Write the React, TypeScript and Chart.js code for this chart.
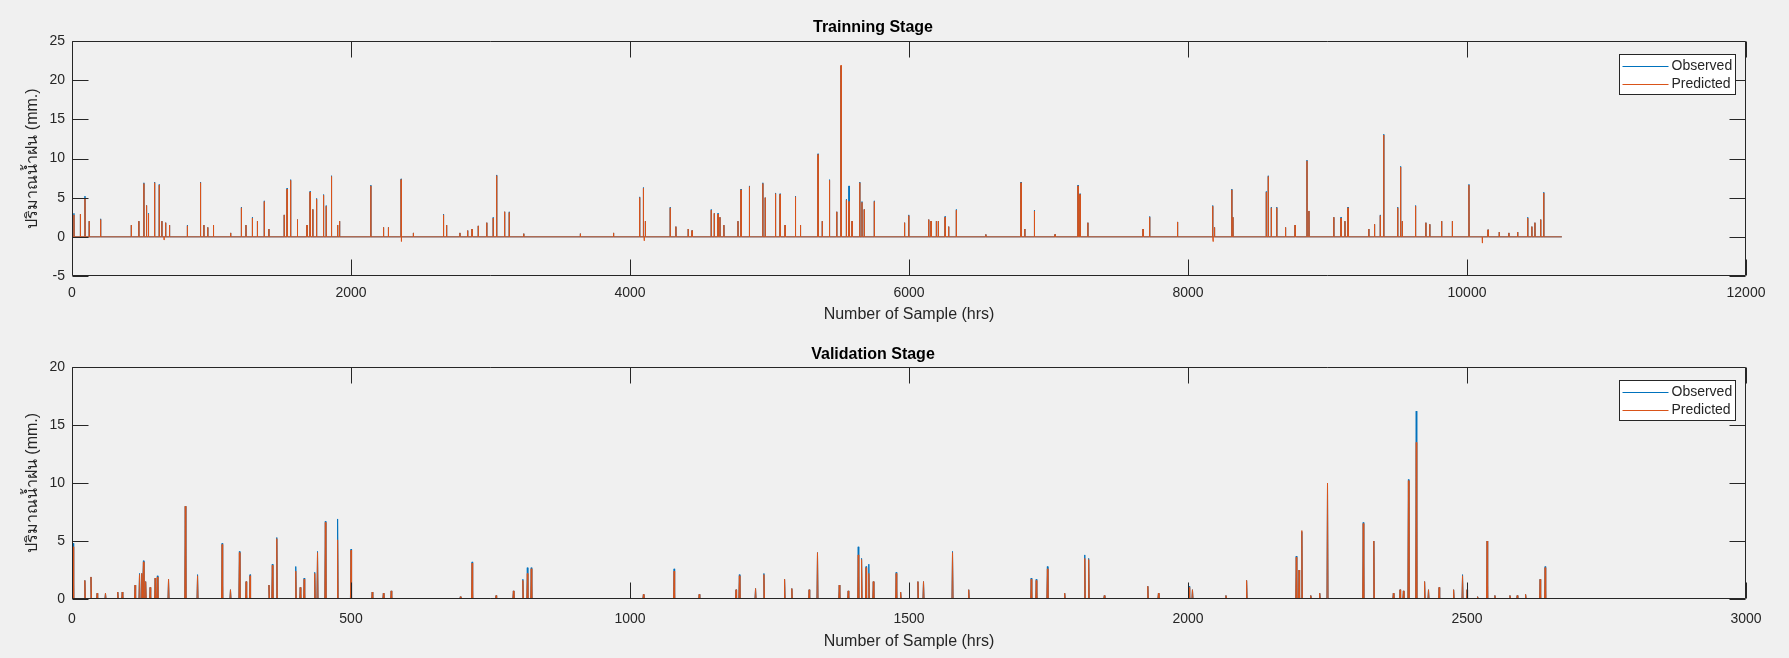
import React, { useEffect, useRef } from "react";
import { Chart, registerables } from "chart.js";

Chart.register(...registerables);

// ---------------- Training stage data (sample index, observed, predicted) ----------------
const trainSamples = [
  14, 60, 93, 123, 205, 425, 479, 515, 534, 548,
  592, 625, 644, 660, 671, 699, 827, 921, 945, 973,
  1014, 1137, 1214, 1247, 1293, 1329, 1378, 1411, 1521, 1542,
  1567, 1616, 1685, 1707, 1726, 1753, 1803, 1822, 1860, 1904,
  1918, 2142, 2233, 2268, 2359, 2362, 2447, 2663, 2685, 2781,
  2836, 2868, 2912, 2973, 3019, 3044, 3101, 3134, 3238, 3644,
  3882, 4069, 4096, 4102, 4110, 4288, 4329, 4417, 4445, 4582,
  4604, 4631, 4645, 4673, 4774, 4796, 4856, 4952, 4969, 5043,
  5076, 5112, 5186, 5222, 5348, 5378, 5430, 5482, 5513, 5551,
  5570, 5592, 5647, 5663, 5679, 5751, 5968, 5998, 6141, 6158,
  6196, 6210, 6259, 6284, 6339, 6551, 6803, 6830, 6899, 7047,
  7212, 7226, 7282, 7678, 7725, 7925, 8176, 8180, 8190, 8314,
  8322, 8561, 8575, 8597, 8636, 8699, 8768, 8853, 8867, 9045,
  9097, 9125, 9147, 9296, 9337, 9378, 9403, 9503, 9524, 9536,
  9631, 9705, 9733, 9818, 9895, 10014, 10110, 10151, 10231, 10300,
  10363, 10435, 10465, 10487, 10528, 10550,
];
const trainObserved = [
  3.0, 2.9, 5.2, 2.0, 2.3, 1.5, 2.0, 6.9, 4.0, 3.0,
  7.0, 6.7, 2.0, 0, 1.8, 1.5, 1.5, 7.0, 1.5, 1.2,
  1.5, 0.5, 3.8, 1.5, 2.5, 2.0, 4.6, 1.0, 2.8, 6.2,
  7.3, 2.2, 1.5, 5.8, 3.5, 4.9, 5.4, 4.0, 7.8, 1.5,
  2.0, 6.6, 1.2, 1.2, 7.4, 0, 0.5, 2.9, 1.5, 0.5,
  0.8, 1.0, 1.4, 1.8, 2.5, 7.9, 3.2, 3.2, 0.4, 0.4,
  0.5, 5.1, 6.3, 0, 2.0, 3.8, 1.3, 1.0, 0.8, 3.5,
  3.0, 3.0, 2.5, 1.5, 2.0, 6.1, 6.5, 6.9, 5.0, 5.6,
  5.5, 1.5, 5.2, 1.5, 10.6, 2.0, 7.3, 3.2, 21.8, 4.8,
  6.5, 2.0, 7.0, 4.5, 3.5, 4.6, 1.8, 2.8, 2.2, 2.0,
  2.0, 2.0, 2.6, 1.3, 3.5, 0.3, 7.0, 1.0, 3.4, 0.3,
  6.6, 5.5, 1.8, 1.0, 2.6, 1.9, 4.0, 0, 1.2, 6.1,
  2.5, 5.8, 7.8, 3.8, 3.8, 1.2, 1.5, 9.8, 3.3, 2.5,
  2.5, 2.0, 3.8, 1.0, 1.6, 2.8, 13.1, 3.8, 9.0, 2.0,
  4.0, 1.8, 1.6, 2.0, 2.0, 6.7, 0, 0.9, 0.6, 0.5,
  0.6, 2.5, 1.3, 1.8, 2.2, 5.7,
];
const trainPredicted = [
  2.8, 2.9, 4.9, 2.0, 2.2, 1.5, 2.0, 6.8, 4.0, 2.9,
  6.9, 6.6, 2.0, -0.4, 1.8, 1.5, 1.4, 6.9, 1.5, 1.2,
  1.5, 0.5, 3.7, 1.5, 2.4, 2.0, 4.5, 1.0, 2.8, 6.1,
  7.2, 2.2, 1.5, 5.7, 3.5, 4.8, 5.3, 3.9, 7.7, 1.5,
  2.0, 6.5, 1.2, 1.2, 7.3, -0.6, 0.5, 2.8, 1.5, 0.5,
  0.8, 1.0, 1.4, 1.8, 2.4, 7.8, 3.2, 3.1, 0.4, 0.4,
  0.5, 5.0, 6.2, -0.5, 2.0, 3.7, 1.3, 1.0, 0.8, 3.4,
  3.0, 2.9, 2.5, 1.5, 2.0, 6.0, 6.4, 6.8, 5.0, 5.5,
  5.4, 1.5, 5.1, 1.5, 10.5, 2.0, 7.2, 3.2, 21.9, 4.7,
  4.5, 2.0, 6.9, 4.4, 3.5, 4.5, 1.8, 2.7, 2.2, 2.0,
  2.0, 2.0, 2.5, 1.3, 3.4, 0.3, 6.9, 1.0, 3.3, 0.3,
  6.5, 5.4, 1.8, 1.0, 2.5, 1.9, 3.9, -0.6, 1.2, 6.0,
  2.5, 5.7, 7.7, 3.7, 3.7, 1.2, 1.5, 9.7, 3.3, 2.5,
  2.4, 2.0, 3.7, 1.0, 1.6, 2.7, 13.0, 3.7, 8.9, 2.0,
  3.9, 1.8, 1.6, 2.0, 2.0, 6.6, -0.8, 0.9, 0.6, 0.5,
  0.6, 2.4, 1.3, 1.8, 2.2, 5.6,
];
const trainLastSample = 10680;
const trainXTicks = [0, 2000, 4000, 6000, 8000, 10000, 12000];
const trainYTicks = [-5, 0, 5, 10, 15, 20, 25];

// ---------------- Validation stage data ----------------
const validSamples = [
  2, 23, 34, 45, 60, 82, 90, 113, 121, 125,
  128, 132, 140, 149, 153, 173, 203, 225, 269, 284,
  300, 312, 319, 353, 359, 367, 401, 409, 416, 435,
  440, 454, 476, 500, 538, 558, 572, 696, 717, 760,
  791, 808, 816, 823, 1024, 1079, 1124, 1190, 1196, 1225,
  1240, 1277, 1290, 1321, 1336, 1375, 1391, 1409, 1415, 1423,
  1428, 1436, 1477, 1485, 1516, 1526, 1578, 1607, 1719, 1728,
  1748, 1779, 1815, 1822, 1850, 1928, 1947, 2002, 2008, 2068,
  2105, 2194, 2199, 2204, 2220, 2236, 2250, 2314, 2333, 2368,
  2380, 2386, 2395, 2409, 2424, 2431, 2450, 2476, 2492, 2500,
  2519, 2536, 2550, 2577, 2590, 2605, 2631, 2640,
];
const validObserved = [
  4.8, 1.6, 1.9, 0.5, 0.5, 0.6, 0.6, 1.2, 2.2, 2.2,
  3.3, 1.5, 1.0, 1.8, 2.0, 1.7, 8.0, 2.1, 4.8, 0.8,
  4.1, 1.5, 2.1, 1.2, 3.0, 5.3, 2.8, 1.0, 1.8, 2.3,
  4.1, 6.7, 6.9, 4.3, 0.6, 0.5, 0.7, 0.2, 3.2, 0.3,
  0.7, 1.7, 2.7, 2.7, 0.4, 2.6, 0.4, 0.8, 2.1, 0.9,
  2.2, 1.7, 0.9, 0.8, 4.0, 1.2, 0.7, 4.5, 3.5, 2.8,
  3.0, 1.5, 2.3, 0.6, 1.5, 1.5, 4.1, 0.8, 1.8, 1.7,
  2.8, 0.5, 3.8, 3.5, 0.3, 1.1, 0.5, 1.1, 0.8, 0.3,
  1.6, 3.7, 2.5, 5.8, 0.3, 0.5, 10.0, 6.6, 5.0, 0.5,
  0.8, 0.7, 10.3, 16.2, 1.5, 0.8, 1.0, 0.8, 2.1, 0.8,
  0.2, 5.0, 0.3, 0.3, 0.3, 0.4, 1.7, 2.8,
];
const validPredicted = [
  4.5, 1.6, 1.9, 0.5, 0.5, 0.6, 0.6, 1.2, 2.1, 2.2,
  3.2, 1.5, 1.0, 1.8, 1.9, 1.7, 8.0, 2.0, 4.7, 0.8,
  4.0, 1.5, 2.0, 1.2, 2.9, 5.2, 2.4, 1.0, 1.7, 2.2,
  4.0, 6.6, 5.1, 4.2, 0.6, 0.5, 0.7, 0.2, 3.1, 0.3,
  0.7, 1.6, 2.2, 2.6, 0.4, 2.4, 0.4, 0.8, 2.0, 0.9,
  2.1, 1.7, 0.9, 0.8, 4.0, 1.2, 0.7, 3.8, 3.4, 2.7,
  2.2, 1.5, 2.2, 0.6, 1.5, 1.5, 4.0, 0.8, 1.7, 1.6,
  2.6, 0.5, 3.5, 3.4, 0.3, 1.1, 0.5, 1.0, 0.8, 0.3,
  1.6, 3.6, 2.5, 5.9, 0.3, 0.5, 10.0, 6.5, 5.0, 0.5,
  0.8, 0.7, 10.2, 13.5, 1.5, 0.8, 1.0, 0.8, 2.0, 0.8,
  0.2, 5.0, 0.3, 0.3, 0.3, 0.4, 1.7, 2.7,
];
const validLastSample = 2668;
const validXTicks = [0, 500, 1000, 1500, 2000, 2500, 3000];
const validYTicks = [0, 5, 10, 15, 20];

const seriesNames = ["Observed", "Predicted"];
const seriesColors = ["#0072BD", "#D95319"];
const yAxisTitle = "ปริมาณน้ำฝน (mm.)";
const xAxisTitle = "Number of Sample (hrs)";

const FONT = '"Liberation Sans", Arial, Helvetica, "Noto Sans", sans-serif';
const TEXT = "#262626";
const AXIS = "#262626";
const PAGE_W = 1789;
const PANEL_H = 329;

// hourly series: zero between the listed rain events
function buildSeries(samples: number[], values: number[], last: number) {
  const pts: { x: number; y: number }[] = [{ x: 1, y: 0 }];
  samples.forEach((s, i) => {
    pts.push({ x: s - 1, y: 0 }, { x: s, y: values[i] }, { x: s + 1, y: 0 });
  });
  pts.push({ x: last, y: 0 });
  return pts.sort((a, b) => a.x - b.x);
}

const matlabAxesPlugin = {
  id: "matlabAxes",
  afterDatasetsDraw(chart: any) {
    const { ctx, chartArea: a, scales } = chart;
    const L = 16;
    const l = Math.round(a.left) + 0.5;
    const r = Math.round(a.right) - 0.5;
    const t = Math.round(a.top) + 0.5;
    const b = Math.round(a.bottom) - 0.5;
    ctx.save();
    ctx.strokeStyle = AXIS;
    ctx.lineWidth = 1;
    ctx.beginPath();
    ctx.rect(l, t, r - l, b - t);
    scales.x.ticks.forEach((tk: any) => {
      const px = Math.round(scales.x.getPixelForValue(tk.value)) + 0.5;
      ctx.moveTo(px, b);
      ctx.lineTo(px, b - L);
      ctx.moveTo(px, t);
      ctx.lineTo(px, t + L);
    });
    scales.y.ticks.forEach((tk: any) => {
      const py = Math.round(scales.y.getPixelForValue(tk.value)) + 0.5;
      ctx.moveTo(l, py);
      ctx.lineTo(l + L, py);
      ctx.moveTo(r, py);
      ctx.lineTo(r - L, py);
    });
    ctx.stroke();
    ctx.restore();
  },
  afterDraw(chart: any) {
    const { ctx, chartArea: a } = chart;
    const w = 116;
    const h = 40;
    const x0 = Math.round(a.right - 11 - w) + 0.5;
    const y0 = Math.round(a.top + 13) + 0.5;
    ctx.save();
    ctx.fillStyle = "#ffffff";
    ctx.fillRect(x0, y0, w, h);
    ctx.strokeStyle = AXIS;
    ctx.lineWidth = 1;
    ctx.strokeRect(x0, y0, w, h);
    ctx.font = `14px ${FONT}`;
    ctx.textBaseline = "middle";
    ctx.textAlign = "left";
    chart.data.datasets.forEach((ds: any, i: number) => {
      const cy = Math.round(y0 + 11.5 + i * 17.6) + 0.5;
      ctx.strokeStyle = ds.borderColor;
      ctx.beginPath();
      ctx.moveTo(x0 + 3, cy);
      ctx.lineTo(x0 + 49, cy);
      ctx.stroke();
      ctx.fillStyle = TEXT;
      ctx.fillText(ds.label, x0 + 52, cy);
    });
    ctx.restore();
  },
};

type PanelProps = {
  title: string;
  samples: number[];
  observed: number[];
  predicted: number[];
  last: number;
  xTicks: number[];
  yTicks: number[];
  chartLeft: number;
  chartRight: number;
  chartTop: number;
  chartBottom: number;
  titleCenter: number;
  xTitleCenter: number;
  xTickPad: number;
  top: number;
};

function Panel(p: PanelProps) {
  const ref = useRef<HTMLCanvasElement | null>(null);
  useEffect(() => {
    if (!ref.current) return;
    const titleLH = 16 * 1.2;
    const titlePadTop = p.titleCenter - titleLH / 2;
    const titlePadBottom = p.chartTop - titlePadTop - titleLH;
    const axisLH = 16 * 1.2;
    const chart = new Chart(ref.current, {
      type: "line",
      data: {
        datasets: [
          {
            label: seriesNames[0],
            data: buildSeries(p.samples, p.observed, p.last),
            borderColor: seriesColors[0],
            borderWidth: 1,
            pointRadius: 0,
            tension: 0,
            fill: false,
            order: 1,
          },
          {
            label: seriesNames[1],
            data: buildSeries(p.samples, p.predicted, p.last),
            borderColor: seriesColors[1],
            borderWidth: 1,
            pointRadius: 0,
            tension: 0,
            fill: false,
            order: 0,
          },
        ],
      },
      options: {
        responsive: false,
        animation: false,
        devicePixelRatio: 1,
        events: [],
        layout: { padding: { left: 0, right: PAGE_W - p.chartRight, top: 0, bottom: 0 } },
        plugins: {
          legend: { display: false },
          tooltip: { enabled: false },
          title: {
            display: true,
            text: p.title,
            color: "#000000",
            font: { family: FONT, size: 16, weight: "bold", lineHeight: 1.2 },
            padding: { top: titlePadTop, bottom: titlePadBottom },
          },
        },
        scales: {
          x: {
            type: "linear",
            min: p.xTicks[0],
            max: p.xTicks[p.xTicks.length - 1],
            grid: { display: false, drawTicks: false },
            border: { display: false },
            afterBuildTicks: (s: any) => {
              s.ticks = p.xTicks.map((v) => ({ value: v }));
            },
            afterFit: (s: any) => {
              s.height = PANEL_H - p.chartBottom;
            },
            ticks: {
              color: TEXT,
              font: { family: FONT, size: 14 },
              padding: p.xTickPad,
              maxRotation: 0,
              autoSkip: false,
              callback: (v: any) => String(v),
            },
            title: {
              display: true,
              text: xAxisTitle,
              color: TEXT,
              font: { family: FONT, size: 16, lineHeight: 1.2 },
              padding: { top: 0, bottom: PANEL_H - p.xTitleCenter - axisLH / 2 },
            },
          },
          y: {
            type: "linear",
            min: p.yTicks[0],
            max: p.yTicks[p.yTicks.length - 1],
            grid: { display: false, drawTicks: false },
            border: { display: false },
            afterBuildTicks: (s: any) => {
              s.ticks = p.yTicks.map((v) => ({ value: v }));
            },
            afterFit: (s: any) => {
              s.width = p.chartLeft;
            },
            ticks: {
              color: TEXT,
              font: { family: FONT, size: 14 },
              padding: 7,
              callback: (v: any) => String(v),
            },
            title: {
              display: true,
              text: yAxisTitle,
              color: TEXT,
              font: { family: FONT, size: 16, lineHeight: 1.2 },
              padding: { top: 32.5 - axisLH / 2, bottom: 0 },
            },
          },
        },
      },
      plugins: [matlabAxesPlugin],
    } as any);
    return () => chart.destroy();
  }, []);
  return (
    <canvas
      ref={ref}
      width={PAGE_W}
      height={PANEL_H}
      style={{ position: "absolute", left: 0, top: p.top, width: PAGE_W, height: PANEL_H, display: "block" }}
    />
  );
}

export default function App() {
  return (
    <div
      style={{
        position: "absolute",
        left: 0,
        top: 0,
        width: PAGE_W,
        height: 658,
        background: "#F0F0F0",
        overflow: "hidden",
      }}
    >
      <Panel
        title="Trainning Stage"
        samples={trainSamples}
        observed={trainObserved}
        predicted={trainPredicted}
        last={trainLastSample}
        xTicks={trainXTicks}
        yTicks={trainYTicks}
        chartLeft={72}
        chartRight={1746}
        chartTop={41}
        chartBottom={276}
        titleCenter={28}
        xTitleCenter={315}
        xTickPad={9}
        top={0}
      />
      <Panel
        title="Validation Stage"
        samples={validSamples}
        observed={validObserved}
        predicted={validPredicted}
        last={validLastSample}
        xTicks={validXTicks}
        yTicks={validYTicks}
        chartLeft={72}
        chartRight={1746}
        chartTop={38}
        chartBottom={270}
        titleCenter={26}
        xTitleCenter={313}
        xTickPad={11.5}
        top={329}
      />
    </div>
  );
}
